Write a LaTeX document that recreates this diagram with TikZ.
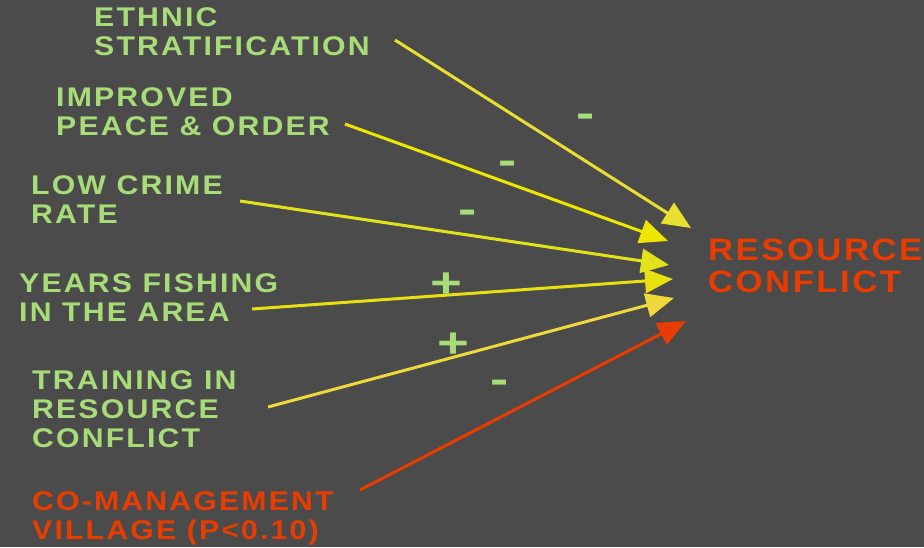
\documentclass[tikz,border=0pt]{standalone}
\usepackage{fontspec}
\usetikzlibrary{arrows.meta}
\newfontfamily\lblfont[LetterSpace=8,FakeStretch=1.12]{Liberation Sans}
\newfontfamily\signfont[FakeStretch=1.3]{Liberation Sans}
\definecolor{bgc}{HTML}{4B4B4B}
\definecolor{grn}{HTML}{A8DC78}
\definecolor{org}{HTML}{E83C00}
\definecolor{ya}{HTML}{E8E030}
\definecolor{yb}{HTML}{ECE600}
\definecolor{yc}{HTML}{E2E21C}
\definecolor{yd}{HTML}{E8E010}
\definecolor{ye}{HTML}{EED83C}
\tikzset{
  lbl/.style={inner sep=0pt, anchor=base west, align=left, text=grn,
    font=\lblfont\bfseries\fontsize{27}{29}\selectfont},
  lblo/.style={lbl, text=org},
  target/.style={inner sep=0pt, anchor=base west, align=left, text=org,
    font=\lblfont\bfseries\fontsize{31}{32}\selectfont},
  sign/.style={inner sep=0pt, text=grn, font=\signfont\bfseries\fontsize{42}{42}\selectfont},
  conn/.style={line width=3pt, -{Triangle[length=28pt,width=24pt]}}
}
\begin{document}
\begin{tikzpicture}[x=1pt,y=-1pt]
\fill[bgc] (0,0) rectangle (924,547);
\useasboundingbox (0,0) rectangle (924,547);
\node[lbl] (eth) at (94,55) {ETHNIC\\STRATIFICATION};
\node[lbl] (imp) at (56,135) {IMPROVED\\PEACE \& ORDER};
\node[lbl] (low) at (31,223) {LOW CRIME\\RATE};
\node[lbl] (yrs) at (19,321) {YEARS FISHING\\IN THE AREA};
\node[lbl] (trn) at (32,447) {TRAINING IN\\RESOURCE\\CONFLICT};
\node[lblo] (com) at (32,539) {CO-MANAGEMENT\\VILLAGE (P<0.10)};
\node[target] (rc) at (708,292) {RESOURCE\\CONFLICT};
\coordinate (s1) at (395,40);  \coordinate (e1) at (691,228);
\coordinate (s2) at (345,124); \coordinate (e2) at (668,241);
\coordinate (s3) at (240,201); \coordinate (e3) at (669,265);
\coordinate (s4) at (252,309); \coordinate (e4) at (673,279);
\coordinate (s5) at (268,407); \coordinate (e5) at (674,298);
\coordinate (s6) at (360,490); \coordinate (e6) at (686,321);
\draw[conn, ya] (s1) -- (e1);
\draw[conn, yb] (s2) -- (e2);
\draw[conn, yc] (s3) -- (e3);
\draw[conn, yd] (s4) -- (e4);
\draw[conn, ye] (s5) -- (e5);
\draw[conn, org] (s6) -- (e6);
\node[sign] (m1) at (586,121) {-};
\node[sign] (m2) at (508,168) {-};
\node[sign] (m3) at (468,217) {-};
\node[sign] (p1) at (446,285) {+};
\node[sign] (p2) at (453,345) {+};
\node[sign] (m4) at (500,387) {-};
\end{tikzpicture}
\end{document}
